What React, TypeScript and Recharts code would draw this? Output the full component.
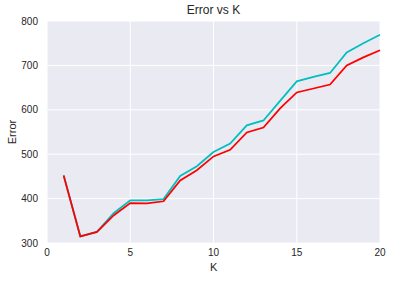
import React from "react";
import { LineChart, Line, XAxis, YAxis, CartesianGrid } from "recharts";

const kValues = [1, 2, 3, 4, 5, 6, 7, 8, 9, 10, 11, 12, 13, 14, 15, 16, 17, 18, 19, 20];
const cyanError = [452, 315, 325, 367, 396, 396, 399, 451, 473, 505, 524, 565, 576, 620, 664, 674, 683, 729, 750, 769];
const redError = [452, 315, 325, 362, 390, 389, 394, 441, 464, 495, 510, 549, 560, 603, 639, 648, 657, 700, 718, 734];
const xTicks = [0, 5, 10, 15, 20];
const yTicks = [300, 400, 500, 600, 700, 800];

const data = kValues.map((k, i) => ({ k, cyan: cyanError[i], red: redError[i] }));

const textColor = "#262626";
const font = "'Liberation Sans', Arial, sans-serif";

export default function App() {
  return (
    <div style={{ position: "absolute", left: 0, top: 0, width: 393, height: 281, background: "#fff", fontFamily: font }}>
      <div
        style={{
          position: "absolute",
          left: 47,
          width: 333,
          top: 3,
          textAlign: "center",
          fontSize: 12,
          color: textColor,
        }}
      >
        Error vs K
      </div>
      <div
        style={{
          position: "absolute",
          left: 12,
          top: 132,
          transform: "translate(-50%, -50%) rotate(-90deg)",
          fontSize: 11,
          color: textColor,
        }}
      >
        Error
      </div>
      <div style={{ position: "absolute", left: 210, top: 261, fontSize: 11, color: textColor }}>K</div>
      <LineChart width={393} height={281} data={data} margin={{ top: 21, right: 13, bottom: 0, left: 0 }}>
        <CartesianGrid fill="#EAEAF2" stroke="#ffffff" strokeWidth={1} ticks={xTicks} />
        <XAxis
          dataKey="k"
          type="number"
          domain={[0, 20]}
          ticks={xTicks}
          height={38}
          axisLine={false}
          tickLine={false}
          tickSize={0}
          tickMargin={6}
          tick={{ fontSize: 10, fill: textColor, fontFamily: font }}
        />
        <YAxis
          type="number"
          domain={[300, 800]}
          ticks={yTicks}
          width={47}
          axisLine={false}
          tickLine={false}
          tickSize={0}
          tickMargin={9}
          tick={{ fontSize: 10, fill: textColor, fontFamily: font }}
        />
        <Line dataKey="cyan" stroke="#00BFBF" strokeWidth={1.75} dot={false} isAnimationActive={false} />
        <Line dataKey="red" stroke="#FF0000" strokeWidth={1.75} dot={false} isAnimationActive={false} />
      </LineChart>
    </div>
  );
}
